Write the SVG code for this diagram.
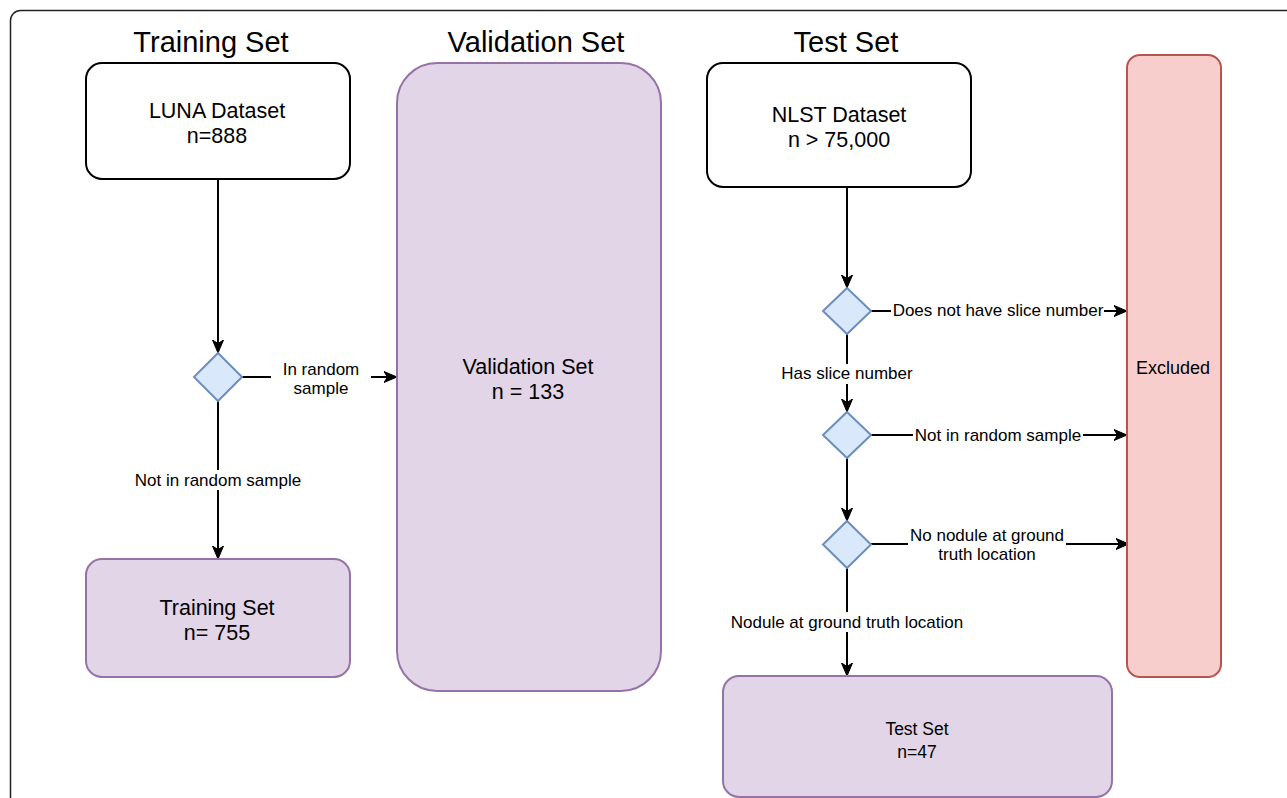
<svg xmlns="http://www.w3.org/2000/svg" width="1287" height="798" viewBox="0 0 1287 798">
<defs>
<style>
text{font-family:"Liberation Sans",Arial,sans-serif;fill:#000;text-anchor:middle}
.title{font-size:29px}
.nt{font-size:21.5px}
.el{font-size:17px}
.plain{fill:#fff;stroke:#000;stroke-width:2}
.purple{fill:#e1d5e7;stroke:#9673a6;stroke-width:2}
.red{fill:#f8cecc;stroke:#b85450;stroke-width:2}
.dia{fill:#dae8fc;stroke:#6c8ebf;stroke-width:2}
.edge{fill:none;stroke:#000;stroke-width:2;marker-end:url(#arr)}
.line{fill:none;stroke:#000;stroke-width:2}
.bg{fill:#fff}
</style>
<marker id="arr" markerUnits="userSpaceOnUse" markerWidth="14" markerHeight="14" refX="13" refY="7" orient="auto" viewBox="0 0 14 14">
<path d="M0,1.5 L13,7 L0,12.5 L3.5,7 Z" fill="#000" stroke="#000" stroke-width="1"/>
</marker>
</defs>
<rect id="frame" x="10.5" y="10.5" width="1300" height="820" rx="10" fill="none" stroke="#222" stroke-width="1.5"/>
<g id="titles">
<text class="title" x="211" y="52">Training Set</text>
<text class="title" x="536" y="52">Validation Set</text>
<text class="title" x="846" y="52">Test Set</text>
</g>
<g id="connectors">
<line class="edge" x1="218" y1="179" x2="218" y2="353"/>
<line class="line" x1="242" y1="377" x2="397" y2="377"/>
<line class="edge" x1="360" y1="377" x2="397" y2="377"/>
<rect class="bg" x="271" y="360" width="100" height="38"/>
<text class="el" x="321" y="375">In random</text>
<text class="el" x="321" y="394">sample</text>
<line class="edge" x1="218" y1="401" x2="218" y2="559"/>
<rect class="bg" x="131" y="470" width="174" height="20"/>
<text class="el" x="218" y="486">Not in random sample</text>
<line class="edge" x1="847" y1="187" x2="847" y2="288"/>
<line class="edge" x1="871" y1="311" x2="1127" y2="311"/>
<rect class="bg" x="891" y="300" width="213" height="20"/>
<text class="el" x="998" y="316">Does not have slice number</text>
<line class="edge" x1="847" y1="334" x2="847" y2="412"/>
<rect class="bg" x="778" y="364" width="138" height="20"/>
<text class="el" x="847" y="379">Has slice number</text>
<line class="edge" x1="871" y1="435" x2="1127" y2="435"/>
<rect class="bg" x="913" y="425" width="170" height="20"/>
<text class="el" x="998" y="441">Not in random sample</text>
<line class="edge" x1="847" y1="458" x2="847" y2="521"/>
<line class="edge" x1="871" y1="544" x2="1129" y2="544"/>
<rect class="bg" x="908" y="527" width="158" height="38"/>
<text class="el" x="987" y="541">No nodule at ground</text>
<text class="el" x="987" y="560">truth location</text>
<line class="edge" x1="847" y1="568" x2="847" y2="676"/>
<rect class="bg" x="729" y="612" width="238" height="20"/>
<text class="el" x="847" y="628">Nodule at ground truth location</text>
</g>
<g id="luna">
<rect class="plain" x="86" y="63" width="264" height="116" rx="16"/>
<text class="nt" x="217" y="118">LUNA Dataset</text>
<text class="nt" x="217" y="143">n=888</text>
</g>
<g id="validation">
<rect class="purple" x="397" y="63" width="264" height="628" rx="40"/>
<text class="nt" x="528" y="374">Validation Set</text>
<text class="nt" x="528" y="399">n = 133</text>
</g>
<g id="nlst">
<rect class="plain" x="707" y="63" width="264" height="124" rx="16"/>
<text class="nt" x="839" y="122">NLST Dataset</text>
<text class="nt" x="839" y="147">n &gt; 75,000</text>
</g>
<g id="excluded">
<rect class="red" x="1127" y="55" width="94" height="622" rx="13"/>
<text x="1173" y="374" style="font-size:18px">Excluded</text>
</g>
<g id="d1"><polygon class="dia" points="218,353 242,377 218,401 194,377"/></g>
<g id="training">
<rect class="purple" x="86" y="559" width="264" height="118" rx="16"/>
<text class="nt" x="217" y="615">Training Set</text>
<text class="nt" x="217" y="640">n= 755</text>
</g>
<g id="d2"><polygon class="dia" points="847,288 871,311 847,334 823,311"/></g>
<g id="d3"><polygon class="dia" points="847,412 871,435 847,458 823,435"/></g>
<g id="d4"><polygon class="dia" points="847,521 871,544.5 847,568 823,544.5"/></g>
<g id="testset">
<rect class="purple" x="723" y="676" width="389" height="121" rx="16"/>
<text x="917" y="735" style="font-size:17.5px">Test Set</text>
<text x="917" y="758" style="font-size:17.5px">n=47</text>
</g>
</svg>
